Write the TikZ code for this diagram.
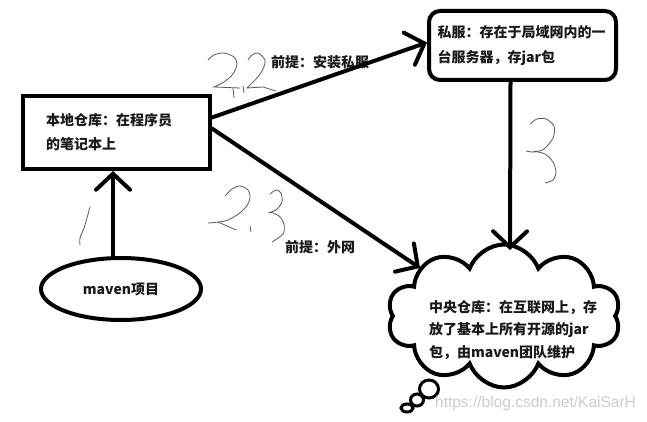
\documentclass[tikz,border=0pt]{standalone}
\usepackage{fontspec}
\setmainfont{Liberation Sans}
\newfontfamily\cjk{Noto Sans CJK SC}
\usetikzlibrary{arrows.meta,shapes.geometric,shapes.symbols,calc}
\begin{document}
\begin{tikzpicture}[x=1pt,y=-1pt,
  txt/.style={font=\cjk\bfseries\fontsize{14pt}{24pt}\selectfont, text=black!90},
  box/.style={txt, draw, line width=4pt, minimum width=187pt, minimum height=73pt,
    text width=141pt, align=left, inner xsep=23pt, inner ysep=0pt},
  rbox/.style={txt, draw, line width=4pt, rounded corners=11pt, minimum width=187pt,
    minimum height=69pt, text width=170pt, align=left, inner xsep=8.5pt, inner ysep=0pt,
    font=\cjk\bfseries\fontsize{14pt}{25pt}\selectfont},
  oval/.style={txt, draw, ellipse, line width=4pt, minimum width=160pt, minimum height=62pt, inner sep=0pt},
  cloudbox/.style={draw, cloud, line width=4pt, cloud puffs=10, cloud puff arc=140,
    aspect=1.6, minimum width=233pt, minimum height=143pt, inner sep=0pt},
  bubble/.style={draw, ellipse, line width=3pt, inner sep=0pt},
  lbl/.style={txt},
  arr/.style={line width=4pt, line cap=round, -{Straight Barb[length=16pt,width=34pt,line cap=round]}},
  hand/.style={draw=black!65, line width=0.8pt}
]
\useasboundingbox[fill=white] (0,0) rectangle (647,422);

% handwritten numbers
\draw[hand] plot[smooth] coordinates {(208,60) (214,55) (224,53) (234,57) (237,64) (233,74) (224,82) (214,87)} -- (240,88);
\draw[hand] (233,88) -- (234,98);
\draw[hand] (243,86) -- (244,93);
\draw[hand] plot[smooth] coordinates {(248,60) (252,55) (258,53) (265,60) (263,69) (257,78) (247,88)} -- (263,87) -- (276,91);
\draw[hand] plot[smooth] coordinates {(225,196) (232,189) (240,186) (248,190) (250,198) (246,207) (237,215) (225,221) (208,223)};
\draw[hand] (218,222) -- (236,230);
\draw[hand] (250,226) -- (251,232);
\draw[hand] plot[smooth] coordinates {(270,194) (276,190) (281,193) (282,202) (276,210) (268,213)};
\draw[hand] plot[smooth] coordinates {(270,212) (279,216) (284,224) (283,234) (272,242)};
\draw[hand] plot[smooth] coordinates {(90,207) (87,218) (84,228) (80,238) (80,245)};
\draw[hand] plot[smooth] coordinates {(530,124) (537,119) (546,119) (554,126) (553,138) (544,149) (534,152) (526,151)};
\draw[hand] plot[smooth] coordinates {(533,151) (545,154) (553,162) (556,172) (553,180) (545,183)};

% nodes
\node[box] (local) at (116.5,132.5) {本地仓库：在程序员\\的笔记本上};
\node[rbox] (private) at (522.5,45.5) {私服：存在于局域网内的一\\台服务器，存jar包};
\node[oval] (maven) at (121,289) {maven项目};
\node[txt, text width=172pt, align=left, inner sep=0pt, font=\cjk\bfseries\fontsize{14pt}{22.5pt}\selectfont] (centraltext) at (515,330)
  {中央仓库：在互联网上，存\\放了基本上所有开源的jar\\包，由maven团队维护};
\node[cloudbox] (central) at (504,316) {};
\node[bubble, minimum width=19pt, minimum height=18pt] (b1) at (429,389) {};
\node[bubble, minimum width=13pt, minimum height=12pt] (b2) at (417,400) {};
\node[bubble, minimum width=12pt, minimum height=8pt] (b3) at (407,408) {};

\node[lbl] (l1) at (320,62) {前提：安装私服};
\node[lbl] (l2) at (320,247) {前提：外网};

% connectors
\draw[arr] ([yshift=15pt]local.east) -- ([yshift=3pt]private.west);
\draw[arr] ([yshift=4pt]local.east) -- ([shift={(-84pt,48pt)}]central.center);
\draw[arr] ([xshift=-12pt]private.south) -- ([shift={(6pt,66pt)}]central.center);
\draw[arr] ([xshift=-8pt]maven.north) -- ([xshift=-3.5pt]local.south);

% watermark
\node[text=black!20, font=\fontsize{15.5pt}{18pt}\selectfont, inner sep=0pt] (wm) at (535.5,403) {https://blog.csdn.net/KaiSarH};
\end{tikzpicture}
\end{document}
